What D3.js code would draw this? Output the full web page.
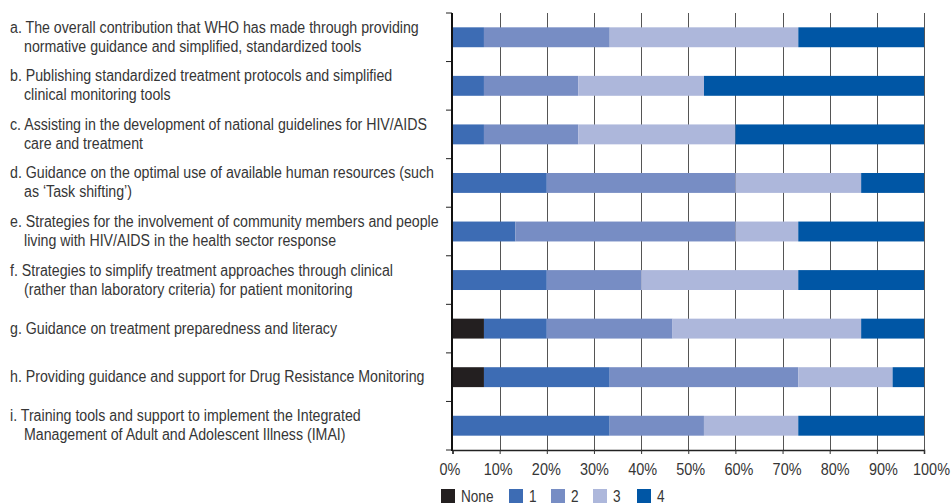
<!DOCTYPE html>
<html><head><meta charset="utf-8">
<script src="https://cdn.jsdelivr.net/npm/d3@7"></script>
<style>
body{margin:0;background:#fff;}
svg{display:block;}
text{font-family:"Liberation Sans",Arial,sans-serif;fill:#363636;}
</style></head>
<body><svg id="c" width="951" height="503"></svg>
<script>
const categories = [
  ["a. The overall contribution that WHO has made through providing","normative guidance and simplified, standardized tools"],
  ["b. Publishing standardized treatment protocols and simplified","clinical monitoring tools"],
  ["c. Assisting in the development of national guidelines for HIV/AIDS","care and treatment"],
  ["d. Guidance on the optimal use of available human resources (such","as \u2018Task shifting\u2019)"],
  ["e. Strategies for the involvement of community members and people","living with HIV/AIDS in the health sector response"],
  ["f. Strategies to simplify treatment approaches through clinical","(rather than laboratory criteria) for patient monitoring"],
  ["g. Guidance on treatment preparedness and literacy"],
  ["h. Providing guidance and support for Drug Resistance Monitoring"],
  ["i. Training tools and support to implement the Integrated","Management of Adult and Adolescent Illness (IMAI)"]
];
const seriesNames = ["None","1","2","3","4"];
const valNone = [0,0,0,0,0,0,6.67,6.67,0];
const val1    = [6.67,6.67,6.67,20,13.33,20,13.33,26.67,33.33];
const val2    = [26.67,20,20,40,46.67,20,26.67,40,20];
const val3    = [40,26.67,33.33,26.67,13.33,33.33,40,20,20];
const val4    = [26.67,46.67,40,13.33,26.67,26.67,13.33,6.67,26.67];
const colors  = ["#231f20","#3d6cb4","#778dc4","#adb7db","#0056a5"];
const tickVals = [0,10,20,30,40,50,60,70,80,90,100];

const svg = d3.select("#c");
const keys = ["a","b","c","d","e","f","g","h","i"];
const rows = keys.map((k,i)=>({key:k, None:valNone[i], "1":val1[i], "2":val2[i], "3":val3[i], "4":val4[i]}));
const stack = d3.stack().keys(seriesNames)(rows);

const x = d3.scaleLinear().domain([0,100]).range([452.5,924]);
const xLab = d3.scaleLinear().domain([0,100]).range([450,931.5]);
const y = d3.scaleBand().domain(keys).range([13,450]).paddingInner(0.59).paddingOuter(0.295);
const color = d3.scaleOrdinal().domain(seriesNames).range(colors);

function ctext(parent, tx, ty, size, str, sx, anchor){
  const g = parent.append("g").attr("transform",`translate(${tx},${ty}) scale(${sx},1)`);
  return g.append("text").attr("x",0).attr("y",0).attr("font-size",size)
    .attr("text-anchor",anchor||"start").text(str);
}

// gridlines
svg.append("g").selectAll("line").data(tickVals.slice(1)).join("line")
  .attr("x1",d=>Math.round(x(d))+0.5).attr("x2",d=>Math.round(x(d))+0.5)
  .attr("y1",13).attr("y2",450).attr("stroke","#555").attr("stroke-width",1);

// bars
svg.append("g").selectAll("g").data(stack).join("g").attr("fill",d=>color(d.key))
  .selectAll("rect").data(d=>d).join("rect")
  .attr("x",d=>x(d[0])).attr("width",d=>x(d[1])-x(d[0]))
  .attr("y",d=>y(d.data.key)).attr("height",y.bandwidth());

// x axis
const xAxis = d3.axisBottom(x).tickValues(tickVals).tickFormat("").tickSize(4);
const gx = svg.append("g").attr("transform","translate(0,450)").call(xAxis);
gx.select(".domain").attr("stroke","#222").attr("stroke-width",1.5);
gx.selectAll(".tick line").attr("stroke","#333");
const tl = svg.append("g");
tickVals.forEach(v=>{ ctext(tl, xLab(v), 475, 17, v+"%", 0.85, "middle"); });

// y axis line and boundary ticks
const step = y.step();
const bounds = d3.range(keys.length+1).map(i=>13+i*step);
svg.append("g").selectAll("line").data(bounds).join("line")
  .attr("x1",446).attr("x2",452).attr("y1",d=>d).attr("y2",d=>d).attr("stroke","#222").attr("stroke-width",1);
svg.append("line").attr("x1",452).attr("x2",452).attr("y1",13).attr("y2",451).attr("stroke","#111").attr("stroke-width",2);

// labels
const lab = svg.append("g");
const probe = lab.append("text").attr("font-size",16).text(categories[0][0]);
const w0 = probe.node().getComputedTextLength();
probe.remove();
const sx = 409 / w0;
categories.forEach((lines,i)=>{
  const cy = y(keys[i]) + y.bandwidth()/2;
  if(lines.length===1){
    ctext(lab, 10, cy+5, 16, lines[0], sx);
  } else {
    ctext(lab, 10, cy-4.5, 16, lines[0], sx);
    ctext(lab, 24, cy+14.5, 16, lines[1], sx);
  }
});

// legend
const legX = [441,509,551,593,637];
const lg = svg.append("g");
seriesNames.forEach((s,i)=>{
  lg.append("rect").attr("x",legX[i]).attr("y",489).attr("width",14).attr("height",14).attr("fill",color(s));
  ctext(lg, legX[i]+20, 501.5, 16, s, 0.85);
});
</script></body></html>
